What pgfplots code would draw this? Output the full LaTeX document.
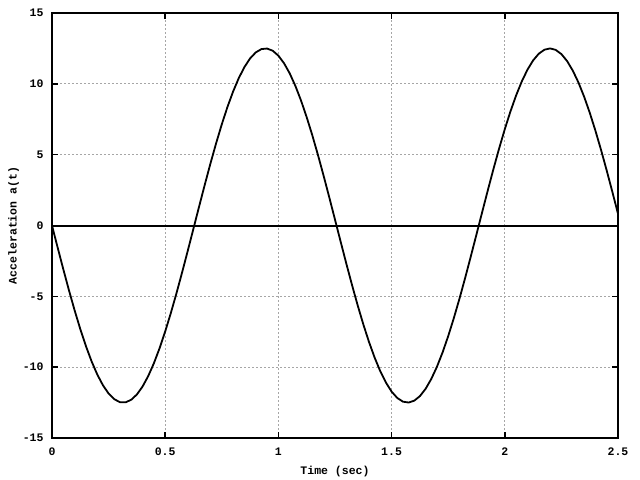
\documentclass[border=0pt]{standalone}
\usepackage{fontspec}
\setmainfont{Liberation Mono}
\usepackage{pgfplots}
\pgfplotsset{compat=1.18}
\begin{document}
\begin{tikzpicture}
\path[use as bounding box] (-52bp,-42bp) rectangle (588bp,438bp);
\begin{axis}[
  scale only axis,
  width=566bp, height=425bp,
  xmin=0, xmax=2.5, ymin=-15, ymax=15,
  xtick={0,0.5,1,1.5,2,2.5},
  xticklabels={0,0.5,1,1.5,2,2.5},
  ytick={-15,-10,-5,0,5,10,15},
  yticklabels={-15,-10,-5,0,5,10,15},
  tick align=inside,
  major tick length=6bp,
  tick style={line width=1.5bp, black},
  axis line style={line width=2bp},
  grid=major,
  major grid style={gray!70, line width=0.8bp, dash pattern=on 2bp off 2bp},
  font=\fontsize{11.5bp}{13bp}\selectfont\bfseries,
  xticklabel style={yshift=-6bp},
  yticklabel style={xshift=-5bp},
  xlabel={Time (sec)},
  ylabel={Acceleration a(t)},
  xlabel style={yshift=-4bp},
  ylabel style={yshift=-3bp},
]
\addplot[black, line width=2bp, forget plot] coordinates {(0,0) (2.5,0)};
\addplot[black, line width=1.8bp, line join=round] table {
0.000 0
0.025 -1.558
0.050 -3.093
0.075 -4.578
0.100 -5.993
0.125 -7.314
0.150 -8.521
0.175 -9.594
0.200 -10.518
0.225 -11.278
0.250 -11.862
0.275 -12.262
0.300 -12.469
0.325 -12.482
0.350 -12.300
0.375 -11.926
0.400 -11.366
0.425 -10.629
0.450 -9.726
0.475 -8.669
0.500 -7.481
0.525 -6.174
0.550 -4.771
0.575 -3.293
0.600 -1.764
0.625 -0.207
0.650 1.353
0.675 2.891
0.700 4.385
0.725 5.810
0.750 7.145
0.775 8.369
0.800 9.460
0.825 10.405
0.850 11.187
0.875 11.794
0.900 12.219
0.925 12.452
0.950 12.491
0.975 12.335
1.000 11.987
1.025 11.451
1.050 10.737
1.075 9.855
1.100 8.819
1.125 7.643
1.150 6.357
1.175 4.962
1.200 3.493
1.225 1.969
1.250 0.415
1.275 -1.146
1.300 -2.689
1.325 -4.190
1.350 -5.626
1.375 -6.974
1.400 -8.212
1.425 -9.321
1.450 -10.291
1.475 -11.090
1.500 -11.725
1.525 -12.174
1.550 -12.433
1.575 -12.497
1.600 -12.367
1.625 -12.044
1.650 -11.533
1.675 -10.841
1.700 -9.981
1.725 -8.966
1.750 -7.809
1.775 -6.530
1.800 -5.152
1.825 -3.692
1.850 -2.174
1.875 -0.622
1.900 0.939
1.925 2.486
1.950 3.994
1.975 5.440
2.000 6.800
2.025 8.054
2.050 9.184
2.075 10.169
2.100 10.996
2.125 11.652
2.150 12.125
2.175 12.409
2.200 12.500
2.225 12.396
2.250 12.098
2.275 11.611
2.300 10.943
2.325 10.104
2.350 9.110
2.375 7.970
2.400 6.707
2.425 5.340
2.450 3.889
2.475 2.378
2.500 0.829
};
\end{axis}
\end{tikzpicture}
\end{document}
